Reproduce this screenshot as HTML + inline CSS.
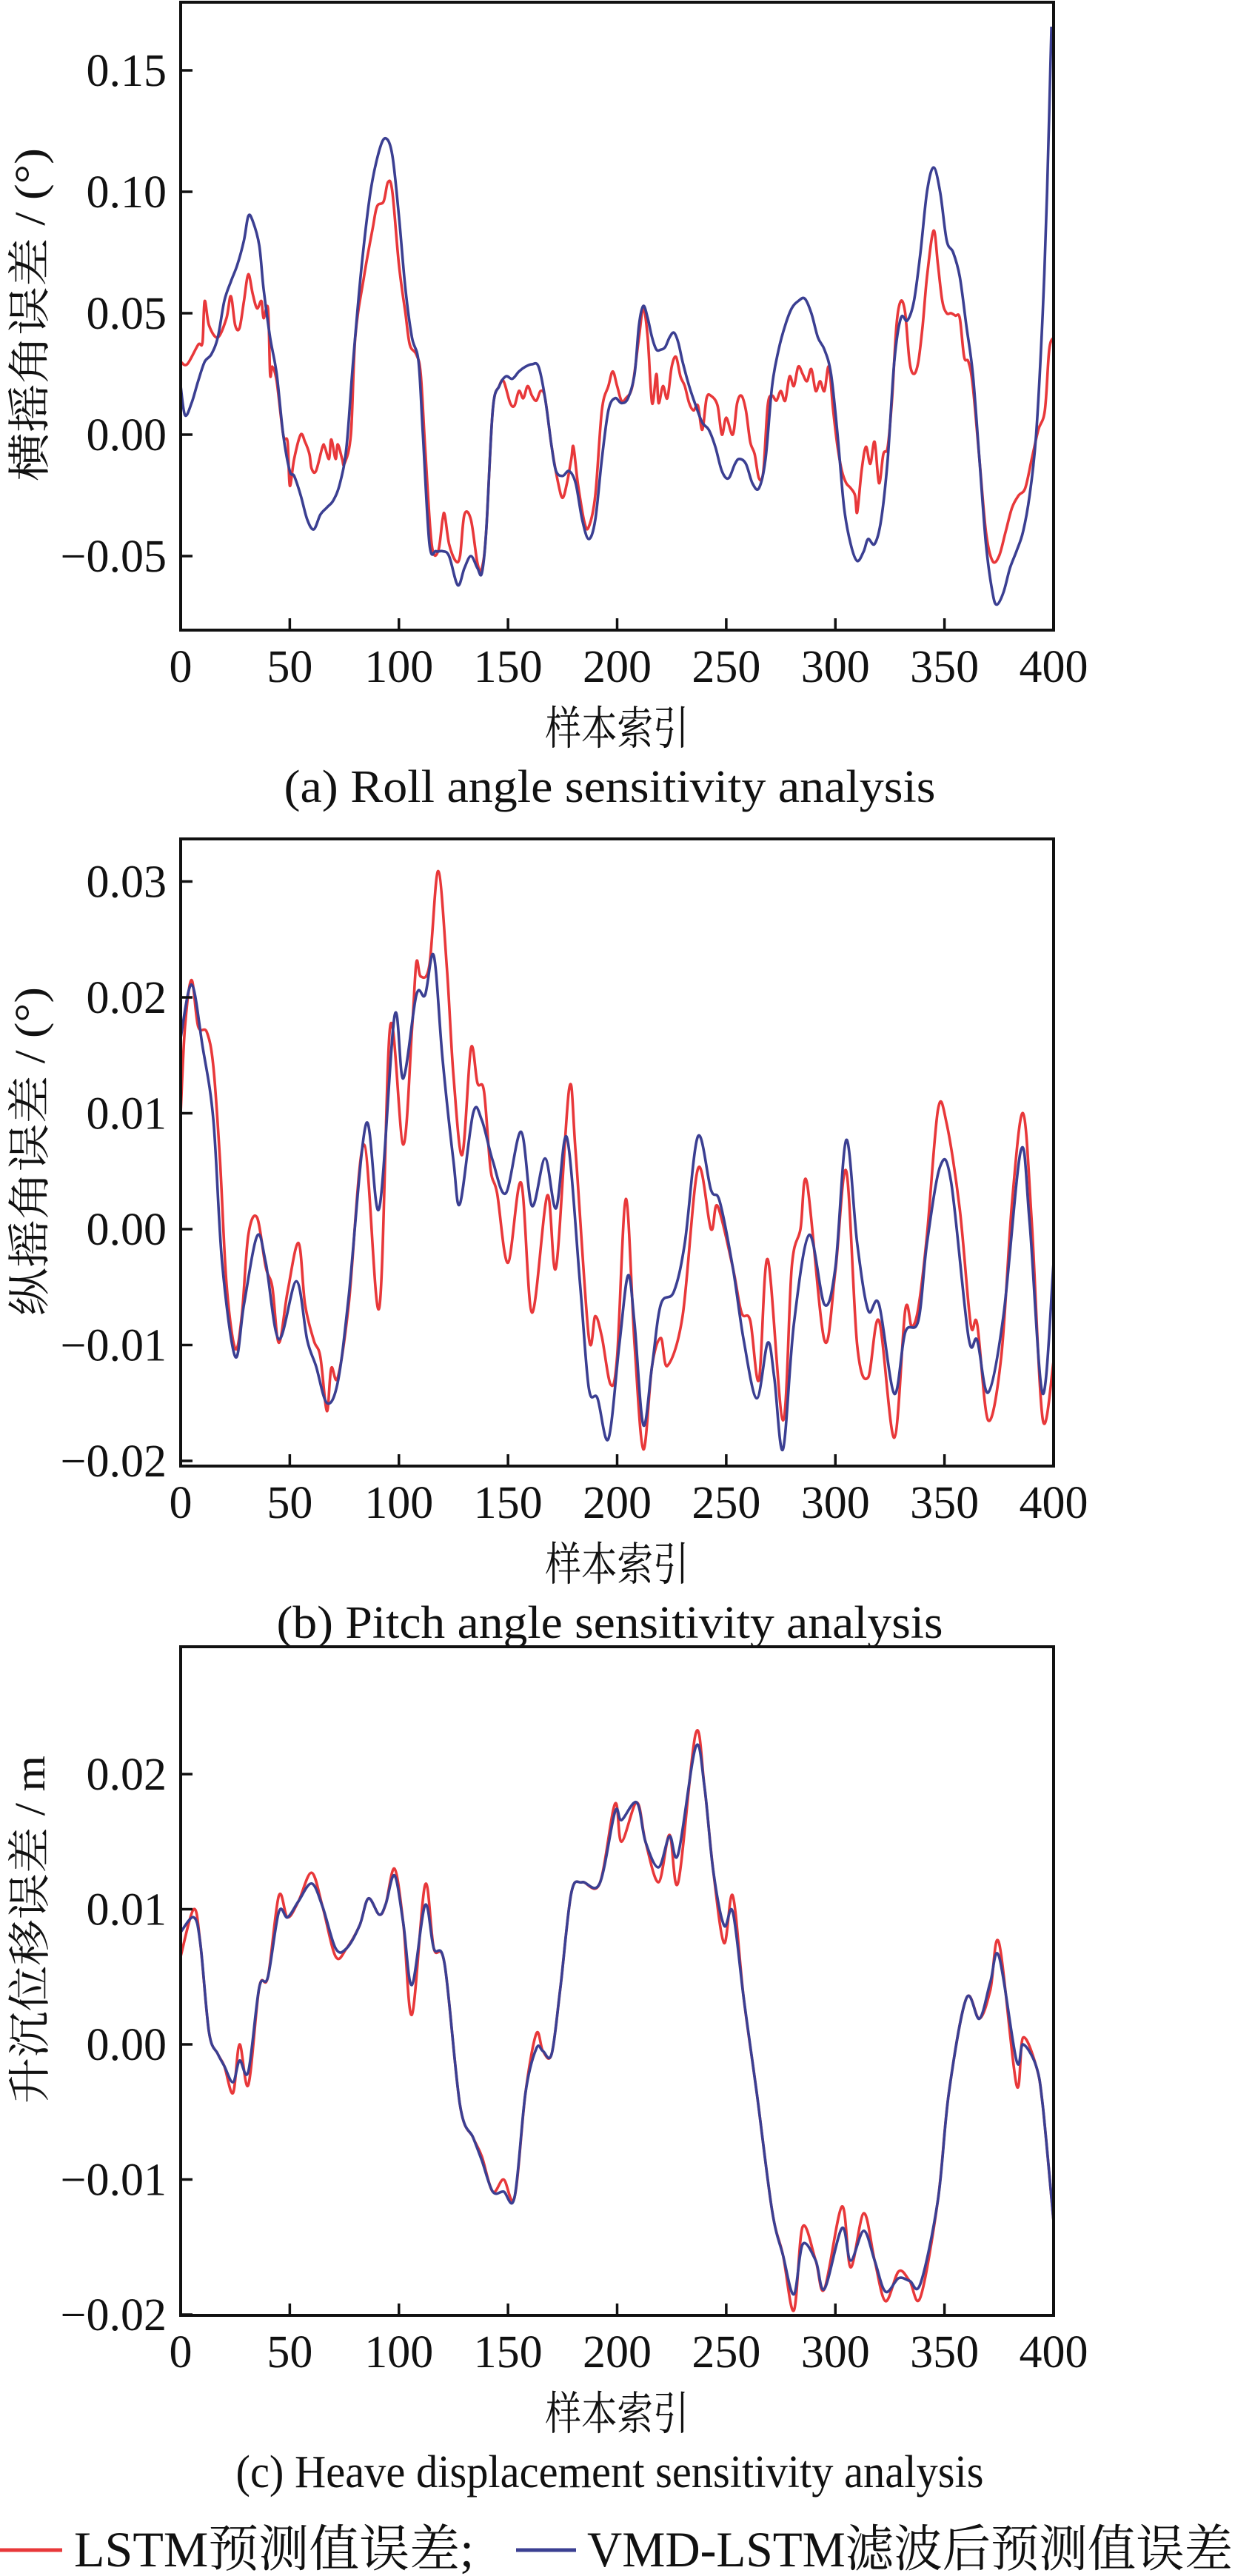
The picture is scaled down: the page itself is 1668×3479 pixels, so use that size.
<!DOCTYPE html>
<html><head><meta charset="utf-8">
<style>
html,body{margin:0;padding:0;background:#fff;}
svg{display:block;}
text{font-family:"Liberation Serif","Noto Serif CJK SC",serif;fill:#111;}
.cjk{font-family:"Liberation Serif","Noto Serif CJK SC",serif;}
</style></head>
<body>
<svg id="s" width="1668" height="3479" viewBox="0 0 1668 3479" xmlns="http://www.w3.org/2000/svg"></svg>
<script>
const S=document.getElementById('s');
const NS='http://www.w3.org/2000/svg';
function el(t,a,txt){const e=document.createElementNS(NS,t);for(const k in a)e.setAttribute(k,a[k]);if(txt!=null)e.textContent=txt;S.appendChild(e);return e;}
const L=244,R=1423;
function X(v){return L+(R-L)*v/400;}
function smooth(pts){
  let p='M'+pts[0][0].toFixed(1)+','+pts[0][1].toFixed(1);
  for(let i=0;i<pts.length-1;i++){
    const p0=pts[Math.max(0,i-1)],p1=pts[i],p2=pts[i+1],p3=pts[Math.min(pts.length-1,i+2)];
    const c1x=p1[0]+(p2[0]-p0[0])/6,c1y=p1[1]+(p2[1]-p0[1])/6;
    const c2x=p2[0]-(p3[0]-p1[0])/6,c2y=p2[1]-(p3[1]-p1[1])/6;
    p+='C'+c1x.toFixed(1)+','+c1y.toFixed(1)+' '+c2x.toFixed(1)+','+c2y.toFixed(1)+' '+p2[0].toFixed(1)+','+p2[1].toFixed(1);
  }
  return p;
}
function panel(o){
  const Y=v=>o.y0-(v/o.step)*o.px;
  const id='c'+o.n;
  const cp=document.createElementNS(NS,'clipPath');cp.setAttribute('id',id);
  const r=document.createElementNS(NS,'rect');r.setAttribute('x',L);r.setAttribute('y',o.top);r.setAttribute('width',R-L);r.setAttribute('height',o.bot-o.top);
  cp.appendChild(r);S.appendChild(cp);
  [[o.red,'#e8383a'],[o.blue,'#3b3f92']].forEach(([d,c])=>{
    const pts=[];
    for(let i=0;i<d.length;i+=2)pts.push([X(d[i]),Y(d[i+1]*o.unit)]);
    el('path',{d:smooth(pts),fill:'none',stroke:c,'stroke-width':3.6,'stroke-linejoin':'round','clip-path':'url(#'+id+')'});
  });
  el('rect',{x:L,y:o.top,width:R-L,height:o.bot-o.top,fill:'none',stroke:'#111','stroke-width':4});
  for(let v=0;v<=400;v+=50){
    el('line',{x1:X(v),y1:o.bot,x2:X(v),y2:o.bot-16,stroke:'#111','stroke-width':3.5});
    el('text',{x:X(v),y:o.bot+70,'font-size':62,'text-anchor':'middle'},String(v));
  }
  o.ticks.forEach(t=>{
    const y=Y(t[0]);
    el('line',{x1:L,y1:y,x2:L+16,y2:y,stroke:'#111','stroke-width':3.5});
    el('text',{x:225,y:y+21,'font-size':62,'text-anchor':'end'},t[1]);
  });
  el('text',{x:X(200),y:o.bot+154,'font-size':62,'text-anchor':'middle',class:'cjk',textLength:194,lengthAdjust:'spacingAndGlyphs'},'样本索引');
  el('text',{x:X(200)-10,y:o.bot+232,'font-size':62,'text-anchor':'middle',textLength:o.capW,lengthAdjust:'spacingAndGlyphs'},o.cap);
  el('text',{x:0,y:0,'font-size':58,'text-anchor':'middle',class:'cjk',textLength:o.ylW,lengthAdjust:'spacingAndGlyphs',transform:'translate(60,'+o.ylY+') rotate(-90)'},o.yl);
}
const aR=[0,.030,3,.029,8,.037,10,.038,11,.055,13,.045,17,.040,21,.048,23,.057,25,.045,27,.044,29,.055,31,.066,33,.058,35,.052,37,.055,38,.048,40,.052,41,.025,42,.028,44,.022,47,.000,49,-.003,50,-.021,52,-.010,55,.000,57,-.003,59,-.008,60,-.014,62,-.015,65,-.005,66,-.005,68,-.010,69,-.002,71,-.010,72,-.004,74,-.010,75,-.012,78,.000,80,.040,84,.065,88,.085,90,.094,93,.096,95,.104,97,.100,100,.070,103,.050,105,.037,108,.033,110,.025,112,-.005,115,-.045,118,-.048,120,-.035,121,-.033,123,-.045,126,-.052,128,-.050,130,-.033,133,-.035,136,-.053,138,-.055,140,-.040,143,.010,146,.020,148,.022,151,.013,153,.012,155,.018,157,.015,159,.020,161,.016,163,.014,165,.018,167,.015,170,-.005,173,-.020,175,-.026,177,-.020,179,-.010,180,-.005,182,-.020,185,-.036,187,-.038,190,-.025,193,.010,196,.020,198,.026,200,.020,202,.014,204,.015,207,.020,210,.040,212,.052,214,.040,216,.013,218,.025,219,.013,221,.020,223,.015,225,.028,227,.032,229,.024,231,.020,233,.013,235,.010,237,.012,239,.002,241,.015,243,.016,246,.012,248,.000,250,.007,253,.000,255,.013,257,.016,259,.010,261,-.003,263,-.008,265,-.018,267,-.015,269,.012,271,.016,273,.014,275,.018,277,.014,279,.024,281,.020,283,.028,285,.025,287,.022,289,.027,291,.018,293,.022,295,.018,297,.028,299,.010,301,-.005,303,-.015,305,-.020,307,-.022,309,-.025,310,-.032,312,-.015,314,-.005,316,-.012,318,-.003,320,-.020,322,-.008,324,-.005,326,.015,328,.045,330,.055,332,.050,334,.030,336,.025,338,.030,340,.045,342,.065,345,.084,347,.070,349,.055,351,.050,353,.050,355,.049,357,.048,359,.032,361,.030,363,.020,366,-.010,369,-.040,372,-.052,375,-.050,378,-.040,381,-.030,384,-.025,387,-.022,390,-.010,393,.002,396,.010,398,.035,400,.040];
const aB=[0,.020,2,.008,5,.013,8,.022,11,.030,14,.033,17,.040,20,.055,23,.063,26,.070,29,.080,31,.090,33,.088,36,.078,38,.060,41,.040,44,.025,47,.000,50,-.015,52,-.017,55,-.025,58,-.035,61,-.039,64,-.033,67,-.030,70,-.027,73,-.020,76,-.005,79,.030,83,.070,87,.100,91,.117,94,.122,97,.115,100,.090,103,.060,106,.040,109,.030,111,.000,114,-.045,117,-.048,120,-.048,123,-.050,127,-.062,130,-.055,133,-.050,136,-.055,138,-.057,140,-.040,143,.010,146,.020,149,.024,152,.023,155,.026,158,.028,161,.029,164,.028,167,.015,170,-.005,172,-.015,175,-.017,178,-.015,181,-.020,184,-.035,187,-.043,190,-.035,193,-.010,196,.010,199,.015,202,.013,205,.015,208,.025,210,.045,212,.053,214,.048,216,.040,218,.035,220,.035,222,.036,224,.040,226,.042,228,.038,230,.030,233,.020,236,.012,239,.005,242,.002,245,-.005,248,-.015,251,-.018,254,-.012,256,-.010,259,-.012,262,-.020,265,-.022,268,-.010,271,.020,274,.035,277,.045,280,.052,283,.055,286,.056,289,.050,292,.040,295,.035,298,.025,301,.000,304,-.030,307,-.045,310,-.052,313,-.048,315,-.043,318,-.045,321,-.035,324,-.010,327,.030,330,.048,333,.047,336,.055,339,.075,342,.100,345,.110,348,.100,351,.080,354,.075,357,.065,360,.045,363,.025,366,-.010,369,-.045,372,-.065,374,-.070,377,-.065,380,-.055,383,-.048,386,-.040,389,-.025,392,.000,395,.050,397,.100,399,.168];
panel({n:'a',top:3,bot:851,y0:587,step:.05,px:164,unit:1,red:aR,blue:aB,
 ticks:[[.15,'0.15'],[.10,'0.10'],[.05,'0.05'],[0,'0.00'],[-.05,'\u22120.05']],
 cap:'(a) Roll angle sensitivity analysis',capW:880,yl:'横摇角误差 / (°)',ylW:450,ylY:425});
const bR=[0,1.0,2,1.75,5,2.15,8,1.75,12,1.7,15,1.4,18,0.6,21,-0.47,25,-1.03,28,-0.75,31,-0.05,35,0.1,39,-0.33,42,-0.5,45,-0.98,49,-0.54,54,-0.12,57,-0.65,61,-0.96,64,-1.1,67,-1.57,69,-1.2,72,-1.28,77,-0.65,84,0.73,91,-0.68,96,1.75,102,0.73,106,1.72,108,2.3,110,2.18,114,2.28,118,3.09,122,2.25,125,1.33,129,0.64,133,1.56,136,1.26,139,1.19,142,0.52,145,0.31,150,-0.29,156,0.4,161,-0.72,168,0.29,172,-0.33,178,1.21,181,0.66,187,-0.93,190,-0.75,193,-0.93,197,-1.34,200,-1.1,204,0.26,208,-1.0,212,-1.9,216,-1.18,220,-0.94,223,-1.18,230,-0.75,237,0.52,243,0.0,246,0.2,253,-0.33,257,-0.72,261,-0.79,265,-1.3,269,-0.26,276,-1.65,280,-0.33,284,0.0,287,0.4,295,-0.96,300,-0.36,305,0.5,310,-1.0,315,-1.28,320,-0.79,327,-1.8,332,-0.7,335,-0.84,338,-0.68,342,-0.05,347,1.03,351,0.91,357,0.17,362,-0.82,365,-0.82,370,-1.65,376,-1.1,381,0.24,386,1.0,390,0.06,395,-1.64,400,-1.14];
const bB=[0,1.65,5,2.11,10,1.58,15,0.94,19,-0.29,25,-1.1,29,-0.65,35,-0.06,39,-0.29,45,-0.95,53,-0.45,58,-0.96,62,-1.18,67,-1.5,72,-1.32,77,-0.58,85,0.91,91,0.18,98,1.84,102,1.3,108,2.02,112,2.02,116,2.36,120,1.47,125,0.59,128,0.22,134,1.0,138,0.94,143,0.59,149,0.31,156,0.84,161,0.2,167,0.61,172,0.18,177,0.79,183,-0.47,187,-1.37,191,-1.46,196,-1.81,201,-1.0,205,-0.4,208,-0.82,212,-1.69,216,-1.18,220,-0.65,226,-0.54,231,-0.12,237,0.8,243,0.34,247,0.24,253,-0.33,258,-0.96,264,-1.46,269,-0.98,272,-1.28,276,-1.9,281,-0.82,288,-0.05,295,-0.65,300,-0.33,305,0.77,310,-0.12,315,-0.7,320,-0.65,327,-1.42,332,-0.89,338,-0.79,342,-0.12,348,0.54,353,0.41,361,-0.93,365,-0.96,370,-1.41,377,-0.75,385,0.68,389,0.06,395,-1.42,400,-0.29];
panel({n:'b',top:1133,bot:1980,y0:1660,step:.01,px:156.5,unit:.01,red:bR,blue:bB,
 ticks:[[.03,'0.03'],[.02,'0.02'],[.01,'0.01'],[0,'0.00'],[-.01,'\u22120.01'],[-.02,'\u22120.02']],
 cap:'(b) Pitch angle sensitivity analysis',capW:900,yl:'纵摇角误差 / (°)',ylW:444,ylY:1555});
const cB=[0,0.83,6,0.94,9,0.75,13,0.09,17,-0.07,20,-0.16,24,-0.28,27,-0.12,31,-0.2,36,0.42,40,0.5,45,0.98,49,0.94,54,1.06,60,1.19,65,1.02,71,0.71,76,0.71,82,0.88,86,1.08,91,0.96,94,1.04,98,1.25,102,0.9,106,0.44,112,1.03,116,0.71,121,0.59,128,-0.45,134,-0.69,138,-0.86,143,-1.09,148,-1.09,153,-1.13,158,-0.36,163,-0.03,166,-0.05,170,-0.07,174,0.42,179,1.12,184,1.2,192,1.19,199,1.72,202,1.66,209,1.79,213,1.5,219,1.31,224,1.54,228,1.41,236,2.2,240,1.91,244,1.29,249,0.88,253,0.98,258,0.34,264,-0.36,271,-1.23,276,-1.56,281,-1.85,285,-1.48,291,-1.6,295,-1.81,303,-1.36,307,-1.6,313,-1.38,318,-1.6,323,-1.83,329,-1.73,334,-1.75,339,-1.77,347,-1.15,352,-0.36,360,0.34,366,0.19,371,0.46,375,0.65,383,-0.12,386,0.0,392,-0.16,395,-0.45,400,-1.31];
const ov={0:0.65,6:1.0,24:-0.36,27:0.0,31:-0.3,45:1.1,60:1.27,71:0.65,98:1.3,106:0.22,112:1.18,138:-0.83,148:-1.0,163:0.08,199:1.78,202:1.5,219:1.2,224:1.55,228:1.2,236:2.3,249:0.75,253:1.1,281:-1.97,285:-1.35,303:-1.2,307:-1.65,313:-1.25,323:-1.9,329:-1.68,339:-1.87,371:0.4,375:0.75,383:-0.3,386:0.05};
const cR=cB.slice();for(let i=0;i<cR.length;i+=2){if(ov[cR[i]]!==undefined)cR[i+1]=ov[cR[i]];}
panel({n:'c',top:2224,bot:3127,y0:2761,step:.01,px:182.5,unit:.01,red:cR,blue:cB,
 ticks:[[.02,'0.02'],[.01,'0.01'],[0,'0.00'],[-.01,'\u22120.01'],[-.02,'\u22120.02']],
 cap:'(c) Heave displacement sensitivity analysis',capW:1010,yl:'升沉位移误差 / m',ylW:470,ylY:2606});
el('line',{x1:0,y1:3444,x2:84,y2:3444,stroke:'#e8383a','stroke-width':5});
el('text',{x:100,y:3466,'font-size':68,textLength:540,lengthAdjust:'spacingAndGlyphs'},'LSTM预测值误差;');
el('line',{x1:697,y1:3444,x2:778,y2:3444,stroke:'#3b3f92','stroke-width':5});
el('text',{x:793,y:3466,'font-size':68,textLength:872,lengthAdjust:'spacingAndGlyphs'},'VMD-LSTM滤波后预测值误差');
</script>
</body></html>
